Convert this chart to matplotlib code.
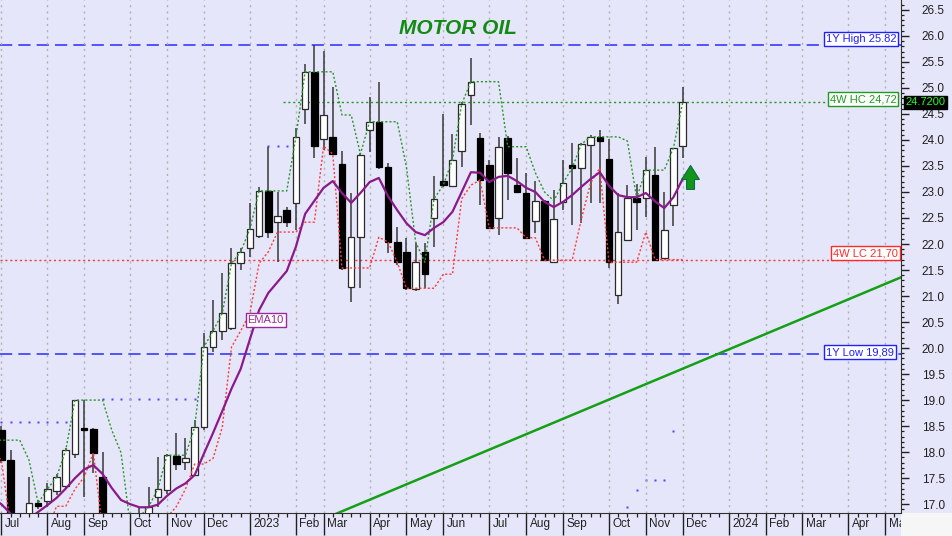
import numpy as np
import pandas as pd
import matplotlib
matplotlib.use("Agg")
import matplotlib.pyplot as plt
import matplotlib.dates as mdates
import matplotlib.transforms as mtransforms
from matplotlib.ticker import MultipleLocator, FormatStrFormatter
from matplotlib.patches import Rectangle

plt.rcParams['font.family'] = ['Liberation Sans', 'DejaVu Sans']

# weekly bars (Friday dates), oldest first; first three sit just left of the view
last_bar = "2023-12-01"
opens = [18.10, 18.00, 18.10, 18.42, 17.85, 16.60, 16.70, 17.02, 17.06, 17.25,
         17.35, 17.96, 18.46, 18.44, 17.52, 16.50, 16.35, 16.45, 16.60, 16.75,
         17.13, 17.27, 17.92, 17.81, 17.56, 18.48, 20.02, 20.33, 20.38, 21.63,
         21.92, 22.15, 23.02, 22.42, 22.65, 22.79, 24.60, 25.31, 24.02, 24.06,
         23.54, 21.17, 22.13, 24.19, 24.35, 23.48, 22.04, 21.85, 21.13, 21.85,
         22.50, 23.21, 23.12, 23.79, 24.87, 24.04, 23.52, 22.50, 24.04, 23.13,
         22.98, 22.44, 22.83, 21.65, 22.81, 23.52, 23.46, 23.90, 24.06, 23.63,
         21.02, 22.08, 22.88, 22.88, 23.33, 21.73, 22.75, 23.88]
highs = [18.30, 18.30, 18.50, 18.50, 18.04, 16.75, 17.52, 17.08, 17.40, 17.58,
         18.08, 19.00, 19.00, 18.46, 18.00, 16.75, 16.60, 16.70, 16.92, 17.33,
         17.90, 17.96, 18.37, 18.27, 18.62, 20.29, 20.92, 21.44, 21.92, 21.92,
         22.79, 23.10, 23.87, 23.00, 22.71, 24.23, 25.46, 25.82, 25.71, 25.02,
         23.79, 22.98, 23.75, 24.83, 25.12, 23.55, 22.33, 22.12, 22.02, 22.02,
         23.31, 24.50, 24.12, 24.72, 25.58, 24.13, 23.62, 24.06, 24.08, 23.65,
         23.37, 23.21, 22.85, 23.04, 23.62, 23.94, 23.94, 24.10, 24.19, 24.02,
         22.98, 23.13, 23.15, 23.67, 23.87, 23.00, 23.85, 25.02]
lows = [17.90, 17.90, 18.00, 17.80, 16.50, 16.30, 16.60, 16.90, 16.94, 17.17,
        17.30, 17.88, 17.13, 17.60, 16.40, 16.20, 16.10, 16.20, 16.40, 16.60,
        16.94, 17.20, 17.65, 17.65, 17.55, 18.42, 19.92, 20.15, 20.35, 21.50,
        21.75, 22.12, 22.12, 21.65, 22.33, 22.27, 24.31, 23.65, 23.80, 23.71,
        21.50, 20.88, 21.15, 23.77, 23.45, 21.83, 21.60, 21.12, 21.10, 21.15,
        21.94, 23.10, 23.10, 23.48, 24.29, 22.75, 22.30, 22.17, 22.85, 22.98,
        22.10, 22.21, 21.67, 21.63, 22.65, 22.37, 22.40, 22.79, 22.79, 21.54,
        20.85, 22.05, 22.27, 22.52, 21.69, 21.72, 22.35, 23.65]
closes = [18.00, 18.10, 18.23, 17.85, 16.60, 16.50, 17.02, 16.96, 17.29, 17.52,
          18.04, 19.00, 18.42, 17.99, 16.50, 16.35, 16.45, 16.60, 16.75, 16.95,
          17.29, 17.94, 17.77, 17.88, 18.48, 20.02, 20.33, 20.67, 21.63, 21.85,
          22.29, 23.02, 22.23, 22.54, 22.42, 24.06, 25.31, 23.88, 24.48, 23.73,
          21.54, 22.13, 23.71, 24.35, 23.48, 22.04, 21.65, 21.15, 21.65, 21.42,
          22.87, 23.13, 23.62, 24.69, 25.12, 23.23, 22.31, 23.87, 23.37, 23.00,
          22.12, 22.83, 21.69, 22.48, 23.17, 23.46, 23.92, 24.06, 23.98, 21.65,
          22.23, 22.88, 22.81, 23.42, 21.70, 22.27, 23.85, 24.72]
ema10 = [17.25, 17.20, 17.12, 17.00, 16.82, 16.70, 16.72, 16.85, 16.98, 17.12,
         17.30, 17.50, 17.67, 17.75, 17.58, 17.31, 17.08, 17.00, 16.94, 16.94,
         16.99, 17.16, 17.30, 17.40, 17.56, 17.97, 18.37, 18.79, 19.22, 19.60,
         20.17, 20.73, 21.06, 21.27, 21.48, 21.95, 22.58, 22.83, 23.08, 23.21,
         22.98, 22.79, 22.98, 23.19, 23.27, 22.92, 22.65, 22.40, 22.23, 22.17,
         22.31, 22.42, 22.62, 23.00, 23.38, 23.37, 23.19, 23.29, 23.31, 23.21,
         23.08, 23.00, 22.81, 22.71, 22.81, 22.94, 23.10, 23.25, 23.38, 23.12,
         22.94, 22.90, 22.90, 22.98, 22.82, 22.69, 22.90, 23.25]

# small blue stop dots (weeks back from last bar)
stop_weeks_back = [74, 73, 72, 71, 70, 69, 68, 67,
                   63, 62, 61, 60, 59, 58, 57, 56, 55, 54, 53,
                   45, 44, 43,
                   6, 5, 4, 3, 2, 1]
stop_values = [18.58, 18.58, 18.58, 18.58, 18.58, 18.58, 18.58, 18.58,
               19.02, 19.02, 19.02, 19.02, 19.02, 19.02, 19.02, 19.02, 19.02, 19.02, 19.02,
               23.88, 23.88, 23.88,
               16.94, 17.27, 17.46, 17.46, 17.46, 18.40]

hi_1y = 25.82
lo_1y = 19.89
hc_4w = 24.72
lc_4w = 21.70
hc_line_from = "2023-01-31"

trend_dates = ["2023-03-13", "2024-05-15"]
trend_values = [16.82, 21.36]

tick_dates = ["2022-07-01", "2022-08-05", "2022-09-02", "2022-10-07", "2022-11-04",
              "2022-12-02", "2023-01-06", "2023-02-10", "2023-03-03", "2023-04-07",
              "2023-05-05", "2023-06-02", "2023-07-07", "2023-08-04", "2023-09-01",
              "2023-10-06", "2023-11-03", "2023-12-01", "2024-01-05", "2024-02-02",
              "2024-03-01", "2024-04-05", "2024-05-03"]
tick_labels = ["Jul", "Aug", "Sep", "Oct", "Nov", "Dec", "2023", "Feb", "Mar", "Apr",
               "May", "Jun", "Jul", "Aug", "Sep", "Oct", "Nov", "Dec", "2024", "Feb",
               "Mar", "Apr", "May"]

view_from, view_to = "2022-06-30", "2024-05-15"

# ---------------------------------------------------------------
bg = '#E6E6FA'
dates = pd.date_range(end=last_bar, periods=len(closes), freq='W-FRI')
x = mdates.date2num(dates)
o = np.array(opens); h = np.array(highs); l = np.array(lows); c = np.array(closes)
last_x = mdates.date2num(pd.Timestamp(last_bar))

fig = plt.figure(figsize=(9.52, 5.36), dpi=100, facecolor=bg)
ax = fig.add_axes([0, 23 / 536, 901 / 952, 513 / 536], facecolor=bg)
fig.patches.append(Rectangle((901 / 952, 0), 51 / 952, 23 / 536, transform=fig.transFigure,
                             facecolor='#f6f6f6', edgecolor='none', zorder=-1))

# reference lines
ax.axhline(hi_1y, color='#2b2bff', lw=1.1, ls=(0, (8, 4)), zorder=1)
ax.axhline(lo_1y, color='#2b2bff', lw=1.1, ls=(0, (8, 4)), zorder=1)
ax.axhline(lc_4w, color='#ff3535', lw=1.0, ls=(0, (1.5, 2)), zorder=1)
ax.hlines(hc_4w, mdates.datestr2num(hc_line_from), mdates.datestr2num(view_to),
          color='#1f991f', lw=1.0, ls=(0, (1.5, 2)), zorder=1)

# stop dots
stop_x = last_x - 7 * np.array(stop_weeks_back)
ax.plot(stop_x, stop_values, ls='none', marker='s', ms=1.6, mfc='#4848ff', mec='none', zorder=1.5)

# candles
up = c >= o
ax.vlines(x, l, h, color='#383838', lw=1.1, zorder=2)
body_lo = np.minimum(o, c)
body_h = np.maximum(np.abs(c - o), 0.05)
ax.bar(x[up], body_h[up], bottom=body_lo[up], width=5, color='white',
       edgecolor='#2a2a2a', linewidth=0.9, zorder=3)
ax.bar(x[~up], body_h[~up], bottom=body_lo[~up], width=5, color='black',
       edgecolor='black', linewidth=0.9, zorder=3)

# 4-week high / low close envelope
s = pd.Series(c)
ax.plot(x, s.rolling(4, min_periods=1).max(), color='#2a962a', lw=1.0, ls=(0, (1.5, 1.5)), zorder=4)
ax.plot(x, s.rolling(4, min_periods=1).min(), color='#ff3a3a', lw=1.0, ls=(0, (1.5, 1.5)), zorder=4)

# EMA10
ax.plot(x, ema10, color='#8a1a8a', lw=1.6, zorder=5)

# trend line
ax.plot(mdates.datestr2num(trend_dates), trend_values, color='#14a014', lw=1.8, zorder=4)

# arrow
ax.arrow(last_x + 6, 23.05, 0, 0.46, width=6, head_width=13.5, head_length=0.27,
         length_includes_head=True, fc='#12961a', ec='#0b6b45', lw=0.8, zorder=6)

ax.set_xlim(mdates.datestr2num(view_from), mdates.datestr2num(view_to))
ax.set_ylim(16.83, 26.69)

# labels on lines
yx = mtransforms.blended_transform_factory(ax.transAxes, ax.transData)
def tag(y, txt, col, va='center', xpos=0.995):
    ax.text(xpos, y, txt, transform=yx, ha='right', va=va, fontsize=8, color=col, zorder=7,
            bbox=dict(boxstyle='square,pad=0.18', fc='white', ec=col, lw=1))

tag(hi_1y + 0.03, f"1Y High {hi_1y:.2f}", '#2020ff', va='bottom')
tag(hc_4w + 0.06, f"4W HC {hc_4w:.2f}".replace('.', ','), '#1f991f')
tag(lc_4w + 0.03, f"4W LC {lc_4w:.2f}".replace('.', ','), '#ff2a2a', va='bottom', xpos=0.997)
tag(lo_1y + 0.03, f"1Y Low {lo_1y:.2f}".replace('.', ','), '#2020ff', xpos=0.992)
ax.text(1.005, hc_4w, f"{hc_4w:.4f}", transform=yx, ha='left', va='center', fontsize=8,
        color='#22ff22', clip_on=False, zorder=7,
        bbox=dict(boxstyle='square,pad=0.15', fc='black', ec='black'))
ax.text(mdates.datestr2num("2023-01-18"), 20.53, "EMA10", ha='center', va='center', fontsize=8,
        color='#9a2a9a', zorder=7, bbox=dict(boxstyle='square,pad=0.18', fc='white', ec='#9a2a9a', lw=1))

ax.text(0.508, 0.945, "MOTOR OIL", transform=ax.transAxes, ha='center', va='center',
        fontsize=15, fontweight='bold', fontstyle='italic', color='#138a13')

# axes styling
for side in ['left', 'top']:
    ax.spines[side].set_visible(False)
for side in ['right', 'bottom']:
    ax.spines[side].set_color('#303030')

ax.yaxis.tick_right()
ax.yaxis.set_major_locator(MultipleLocator(0.5))
ax.yaxis.set_minor_locator(MultipleLocator(0.1))
ax.yaxis.set_major_formatter(FormatStrFormatter('%.1f'))
ax.tick_params(axis='y', which='major', length=5.5, width=1, pad=9.5, labelsize=8.5, colors='#202020')
ax.tick_params(axis='y', which='minor', length=2.5, width=0.9, colors='#202020')

ax.set_xticks(mdates.datestr2num(tick_dates))
ax.set_xticklabels(tick_labels)
ax.xaxis.set_minor_locator(mdates.WeekdayLocator(byweekday=mdates.FR))
ax.tick_params(axis='x', which='major', length=16, width=1, pad=-12.5, labelsize=8.5, colors='#202020')
ax.tick_params(axis='x', which='minor', length=3, width=0.9, colors='#202020')
ax.grid(True, axis='x', which='major', color='#b0b0b0', lw=1, ls=(0, (1.5, 3)), zorder=0)

shift = mtransforms.ScaledTranslation(2.5 / 72, 0, fig.dpi_scale_trans)
clip = mtransforms.TransformedBbox(mtransforms.Bbox([[0, -0.2], [1, 1]]), ax.transAxes)
for lab in ax.get_xticklabels():
    lab.set_ha('left')
    lab.set_transform(lab.get_transform() + shift)
    lab.set_clip_box(clip)
    lab.set_clip_on(True)

fig.savefig("out.png", dpi=100, facecolor=bg)
